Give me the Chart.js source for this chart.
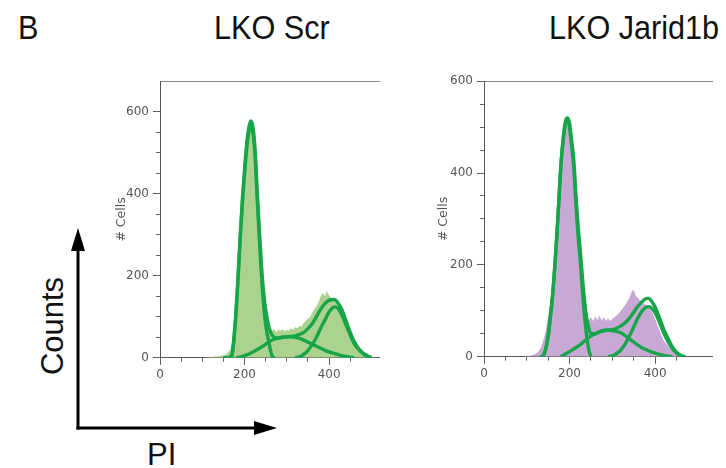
<!DOCTYPE html>
<html><head><meta charset="utf-8">
<script src="https://cdn.jsdelivr.net/npm/chart.js@4/dist/chart.umd.min.js"></script>
<style>
html,body{margin:0;padding:0;background:#fff;width:726px;height:468px;overflow:hidden;}
body{position:relative;font-family:"Liberation Sans",Arial,sans-serif;}
.t{position:absolute;white-space:nowrap;line-height:1;color:#111;}
.h{font-size:34px;transform:scaleX(0.9);transform-origin:0 0;}
canvas{position:absolute;}
</style></head><body>
<div class="t h" style="left:18px;top:10px;">B</div>
<div class="t h" style="left:214px;top:10px;">LKO Scr</div>
<div class="t h" style="left:549px;top:10px;">LKO Jarid1b</div>
<div class="t" style="left:52px;top:326px;font-size:31px;transform:translate(-50%,-50%) rotate(-90deg);">Counts</div>
<div class="t" style="left:147px;top:439px;font-size:31px;">PI</div>
<svg style="position:absolute;left:0;top:0" width="726" height="468">
 <line x1="78" y1="429.5" x2="78" y2="246" stroke="#000" stroke-width="3"/>
 <polygon points="78,228 71,251 85,251" fill="#000"/>
 <line x1="76.5" y1="428" x2="258" y2="428" stroke="#000" stroke-width="3"/>
 <polygon points="277,428 254,421 254,435" fill="#000"/>
</svg>
<canvas id="c1" width="290" height="330" style="left:100px;top:70px;width:290px;height:330px;"></canvas>
<canvas id="c2" width="306" height="330" style="left:420px;top:70px;width:306px;height:330px;"></canvas>
<script>
// ---- LKO Scr (left panel) ----
const scrHistX = [100,105,110,115,120,125,130,135,140,145,150,155,160,165,170,175,180,185,190,195,200,205,210,215,220,225,230,235,240,245,250,255,260,265,270,275,280,285,290,295,300,305,310,315,320,325,330,335,340,345,350,355,360,365,370,375,380,385,390,395,400,405,410,415,420,425,430,435,440,445,450,455,460,465,470,475,480,485,490,495,500,505,510];
const scrHistY = [0,0,1,1,2,2,3,3,4,5,6,8,12,18,30,55,95,160,240,330,420,495,545,560,535,470,390,300,215,150,105,78,68,66,70,63,68,65,70,64,68,66,72,68,75,72,78,76,84,90,96,100,110,118,126,135,150,158,150,162,152,146,142,135,128,118,102,92,80,70,60,48,38,30,25,18,15,10,12,6,3,1,0];
const scrG1X = [150,160,165,170,175,180,185,190,195,200,205,210,215,220,225,230,235,240,245,250,255,260,265,270];
const scrG1Y = [0,0,1,5,45,110,200,295,380,450,510,550,566,548,490,385,290,200,130,80,50,25,5,0];
const scrSX = [180,190,200,210,220,230,240,250,260,270,280,290,300,310,320,330,340,350,360,370,380,390,400,410,420,430,440,450,460];
const scrSY = [0,2,5,9,14,20,26,33,40,45,48,50,51,51,50,47,43,38,33,28,23,18,14,11,8,5,3,1,0];
const scrG2X = [320,330,340,350,360,370,380,390,400,410,415,420,430,440,450,460,470,480,490,500];
const scrG2Y = [0,2,8,18,32,50,72,92,112,123,124,121,105,80,55,33,20,11,4,0];
const scrSumX = [160,170,175,180,185,190,195,200,205,210,215,220,225,230,235,240,245,250,255,260,270,280,290,300,310,320,330,340,350,360,370,380,390,400,410,415,420,430,440,450,460,470,480,490,500];
const scrSumY = [0,6,50,116,207,303,389,460,521,561,578,562,507,405,313,226,160,117,88,67,50,48,50,51,52,53,57,62,71,83,100,118,132,140,142,141,135,118,90,62,38,22,11,4,0];

// ---- LKO Jarid1b (right panel) ----
const jarHistX = [90,95,100,105,110,115,120,125,130,135,140,145,150,155,160,165,170,175,180,185,190,195,200,205,210,215,220,225,230,235,240,245,250,255,260,265,270,275,280,285,290,295,300,305,310,315,320,325,330,335,340,345,350,355,360,365,370,375,380,385,390,395,400,405,410,415,420,425,430,435,440,445,450,455,460,465,470];
const jarHistY = [0,1,2,2,3,4,6,9,15,25,40,60,90,120,155,190,270,360,430,475,500,505,480,430,380,310,240,170,115,90,82,80,86,78,88,80,90,79,86,78,84,78,82,86,90,94,100,106,112,120,128,142,146,132,128,122,118,115,110,106,100,94,82,70,58,46,36,30,24,18,14,8,5,3,1,0,0];
const jarG1X = [130,135,140,145,150,155,160,165,170,175,180,185,190,195,200,205,210,215,220,225,230,235,240,245,250];
const jarG1Y = [0,0,5,20,45,85,130,190,260,340,420,470,505,516,497,458,410,330,262,208,145,88,45,15,0];
const jarSX = [180,190,200,210,220,230,240,250,260,270,280,290,300,310,320,330,340,350,360,370,380,390,400,410,420,430,440];
const jarSY = [0,6,11,17,23,30,38,45,50,54,57,58,57,55,52,46,39,32,25,19,15,11,8,5,3,1,0];
const jarG2X = [290,300,310,320,330,340,350,360,370,380,385,390,400,410,420,430,440,450,460,470];
const jarG2Y = [0,2,7,15,28,45,65,85,100,108,109,107,96,75,52,33,18,8,2,0];
const jarSumX = [135,140,145,150,155,160,165,170,175,180,185,190,195,200,205,210,215,220,225,230,235,240,245,250,260,270,280,290,300,310,320,330,340,350,360,370,380,385,390,400,410,420,430,440,450,460,470];
const jarSumY = [0,5,20,45,85,130,190,260,340,421,475,511,520,508,470,427,350,285,232,174,122,85,62,50,50,54,57,58,59,62,67,74,84,97,110,120,127,127,123,108,85,60,40,22,10,3,0];

const majorStep = 200;
const minorStep = 50;
const lineGreen = '#18a54a';

function pts(xs, ys){ return xs.map((x,i)=>({x:x, y:ys[i]})); }
function curve(xs, ys){
  return {data: pts(xs, ys), borderColor: lineGreen, borderWidth: 3.4, pointRadius: 0,
          fill: false, cubicInterpolationMode: 'monotone', order: 1};
}
const onStep = step => s => { s.ticks = s.ticks.filter(t => Math.abs(t.value % step) < 1e-6); };
const tickFont = {family: 'DejaVu Sans', size: 12};

function panel(id, c){
  const minorAxis = (pos, max) => ({
    type: 'linear', position: pos, min: 0, max: max, weight: 0,
    afterBuildTicks: onStep(minorStep),
    afterFit: s => { if (pos === 'left') s.width = 0; else s.height = 0; },
    ticks: {stepSize: minorStep, autoSkip: false, display: false},
    grid: {drawOnChartArea: false, drawTicks: true, tickLength: 4, color: '#666'},
    border: {display: false}
  });
  new Chart(document.getElementById(id), {
    type: 'line',
    data: {datasets: [
      {data: pts(c.hx, c.hy), fill: 'origin', backgroundColor: c.fill, borderWidth: 0,
       pointRadius: 0, tension: 0, order: 5},
      curve(c.sx, c.sy), curve(c.g2x, c.g2y), curve(c.sumx, c.sumy), curve(c.g1x, c.g1y)
    ]},
    options: {
      responsive: false, animation: false, devicePixelRatio: 1,
      layout: {padding: c.pad},
      plugins: {legend: {display: false}, tooltip: {enabled: false}},
      scales: {
        x: {type: 'linear', position: 'bottom', min: 0, max: c.xMax, weight: 1,
            afterBuildTicks: onStep(majorStep), afterFit: s => { s.height = c.xH; },
            ticks: {stepSize: majorStep, autoSkip: false, maxRotation: 0, padding: 3, color: '#555', font: tickFont},
            grid: {drawOnChartArea: false, drawTicks: true, tickLength: 7, color: '#555'},
            border: {color: '#555', width: 1}},
        xMinor: minorAxis('bottom', c.xMax),
        x2: {type: 'linear', position: 'top', min: 0, max: c.xMax,
             afterFit: s => { s.height = 0; },
             ticks: {display: false}, grid: {display: false},
             border: {color: '#888', width: 1}},
        y: {type: 'linear', position: 'left', min: 0, max: c.yMax, weight: 1,
            afterBuildTicks: onStep(majorStep), afterFit: s => { s.width = c.yW; },
            ticks: {stepSize: majorStep, autoSkip: false, padding: 4, color: '#555', font: tickFont},
            grid: {drawOnChartArea: false, drawTicks: true, tickLength: 7, color: '#555'},
            border: {color: '#555', width: 1},
            title: {display: true, text: '# Cells', color: '#555',
                    font: {family: 'DejaVu Sans', size: 12.5}, padding: {top: 3, bottom: 3}}},
        yMinor: minorAxis('left', c.yMax)
      }
    }
  });
}

panel('c1', {hx: scrHistX, hy: scrHistY, g1x: scrG1X, g1y: scrG1Y, sx: scrSX, sy: scrSY,
  g2x: scrG2X, g2y: scrG2Y, sumx: scrSumX, sumy: scrSumY, fill: '#abd28f',
  xMax: 518, yMax: 675, pad: {left: 11, right: 11, top: 10, bottom: 0}, yW: 49, xH: 42.3});
panel('c2', {hx: jarHistX, hy: jarHistY, g1x: jarG1X, g1y: jarG1Y, sx: jarSX, sy: jarSY,
  g2x: jarG2X, g2y: jarG2Y, sumx: jarSumX, sumy: jarSumY, fill: '#c8a9d6',
  xMax: 533, yMax: 600, pad: {left: 13, right: 14, top: 11, bottom: 0}, yW: 51, xH: 43.3});
</script>
</body></html>
